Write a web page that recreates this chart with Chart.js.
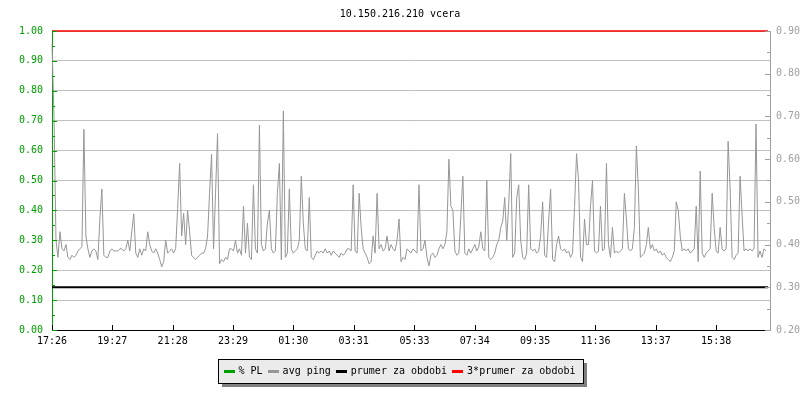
<!DOCTYPE html>
<html>
<head>
<meta charset="utf-8">
<title>10.150.216.210 vcera</title>
<script src="https://cdn.jsdelivr.net/npm/chart.js@4.4.1/dist/chart.umd.min.js"></script>
<style>
  html, body { margin: 0; padding: 0; background: #ffffff; }
  #wrap { width: 800px; height: 400px; }
</style>
</head>
<body>
<div id="wrap"><canvas id="chart" width="800" height="400"></canvas></div>
<script>
const chartTitle = "10.150.216.210 vcera";
const seriesNames = ["% PL", "avg ping", "prumer za obdobi", "3*prumer za obdobi"];
const seriesColors = ["#00a000", "#969696", "#000000", "#ff0000"];

// x axis in minutes since 17:26
const tickMinutes = [0, 121, 242, 363, 484, 605, 727, 848, 969, 1090, 1211, 1332];
const tickLabels = ["17:26", "19:27", "21:28", "23:29", "01:30", "03:31", "05:33", "07:34", "09:35", "11:36", "13:37", "15:38"];
const sampleMinutes = 4;

const plValues = [];
const pingValues = [
  0.87, 0.70, 0.41, 0.37, 0.43, 0.39, 0.385, 0.40, 0.37, 0.365,
  0.375, 0.37, 0.375, 0.385, 0.39, 0.395, 0.67, 0.42, 0.39, 0.37,
  0.385, 0.39, 0.385, 0.365, 0.46, 0.53, 0.375, 0.37, 0.37, 0.385,
  0.39, 0.385, 0.385, 0.385, 0.39, 0.39, 0.385, 0.39, 0.41, 0.385,
  0.43, 0.472, 0.38, 0.37, 0.39, 0.375, 0.39, 0.385, 0.43, 0.40,
  0.385, 0.38, 0.39, 0.38, 0.365, 0.348, 0.36, 0.41, 0.38, 0.385,
  0.39, 0.38, 0.39, 0.485, 0.59, 0.42, 0.473, 0.40, 0.48, 0.43,
  0.375, 0.37, 0.365, 0.37, 0.375, 0.38, 0.38, 0.39, 0.42, 0.52,
  0.612, 0.39, 0.52, 0.66, 0.355, 0.365, 0.36, 0.37, 0.365, 0.39,
  0.39, 0.385, 0.41, 0.38, 0.39, 0.375, 0.49, 0.38, 0.45, 0.37,
  0.365, 0.54, 0.39, 0.38, 0.68, 0.40, 0.385, 0.39, 0.45, 0.48,
  0.39, 0.38, 0.385, 0.52, 0.59, 0.364, 0.713, 0.37, 0.38, 0.53,
  0.39, 0.38, 0.385, 0.39, 0.41, 0.56, 0.45, 0.39, 0.385, 0.51,
  0.37, 0.365, 0.375, 0.385, 0.38, 0.385, 0.38, 0.39, 0.38, 0.385,
  0.375, 0.385, 0.38, 0.375, 0.37, 0.38, 0.375, 0.38, 0.39, 0.39,
  0.385, 0.54, 0.385, 0.38, 0.52, 0.44, 0.39, 0.38, 0.37, 0.355,
  0.36, 0.42, 0.38, 0.52, 0.39, 0.40, 0.385, 0.39, 0.42, 0.385,
  0.40, 0.39, 0.385, 0.41, 0.46, 0.36, 0.37, 0.365, 0.39, 0.385,
  0.38, 0.39, 0.385, 0.38, 0.54, 0.385, 0.39, 0.41, 0.37, 0.35,
  0.375, 0.38, 0.37, 0.375, 0.39, 0.40, 0.39, 0.40, 0.43, 0.60,
  0.49, 0.48, 0.385, 0.375, 0.38, 0.47, 0.56, 0.38, 0.375, 0.39,
  0.38, 0.39, 0.40, 0.385, 0.395, 0.43, 0.39, 0.385, 0.55, 0.37,
  0.365, 0.37, 0.38, 0.40, 0.41, 0.44, 0.455, 0.51, 0.41, 0.495,
  0.613, 0.37, 0.38, 0.51, 0.54, 0.41, 0.37, 0.365, 0.38, 0.54,
  0.39, 0.385, 0.39, 0.38, 0.385, 0.42, 0.50, 0.375, 0.37, 0.455,
  0.53, 0.365, 0.36, 0.40, 0.42, 0.39, 0.385, 0.39, 0.38, 0.385,
  0.37, 0.38, 0.487, 0.613, 0.55, 0.37, 0.36, 0.46, 0.40, 0.40,
  0.49, 0.55, 0.385, 0.38, 0.385, 0.49, 0.385, 0.39, 0.59, 0.40,
  0.37, 0.44, 0.38, 0.385, 0.38, 0.385, 0.39, 0.52, 0.46, 0.39,
  0.385, 0.39, 0.44, 0.631, 0.53, 0.37, 0.375, 0.38, 0.40, 0.44,
  0.39, 0.40, 0.385, 0.39, 0.38, 0.385, 0.375, 0.38, 0.37, 0.365,
  0.36, 0.37, 0.385, 0.50, 0.48, 0.42, 0.385, 0.39, 0.385, 0.39,
  0.38, 0.385, 0.39, 0.49, 0.36, 0.572, 0.38, 0.37, 0.38, 0.385,
  0.39, 0.52, 0.44, 0.385, 0.38, 0.44, 0.39, 0.385, 0.39, 0.642,
  0.53, 0.37, 0.365, 0.375, 0.38, 0.56, 0.47, 0.385, 0.39, 0.385,
  0.39, 0.385, 0.39, 0.682, 0.37, 0.385, 0.37, 0.39, 0.385
];
const lineMinutes = [0, 1436];
const averageValues = [0.30, 0.30];
const tripleAverageValues = [0.90, 0.90];

const monoFont = "'DejaVu Sans Mono', monospace";
Chart.defaults.font.family = monoFont;
Chart.defaults.font.size = 10;
Chart.defaults.color = "#000000";

// little line swatches for the legend
function swatch(color) {
  const c = document.createElement("canvas");
  c.width = 11;
  c.height = 3;
  const g = c.getContext("2d");
  g.fillStyle = color;
  g.fillRect(0, 0, 11, 3);
  return c;
}
const swatches = seriesColors.map(swatch);

const framePlugin = {
  id: "frame",
  beforeDraw(chart) {
    const lg = chart.legend;
    if (!lg || !lg.lineWidths) return;
    const pad = lg.options.labels.padding;
    const start = (lg.left + pad + lg.right - lg.lineWidths[0]) / 2;
    const end = start + lg.lineWidths[0] - pad;
    const x = Math.round(start) - 6.5;
    const w = Math.round(end - start) + 14;
    const y = Math.round(lg.top) - 0.5;
    const h = 24;
    const ctx = chart.ctx;
    ctx.save();
    ctx.fillStyle = "#808080";
    ctx.fillRect(x + 3.5, y + 3.5, w, h);
    ctx.fillStyle = "#ebebeb";
    ctx.fillRect(x, y, w, h);
    ctx.strokeStyle = "#000000";
    ctx.lineWidth = 1;
    ctx.strokeRect(x, y, w, h);
    ctx.restore();
  },
  afterDatasetsDraw(chart) {
    const { ctx, chartArea: area, scales } = chart;
    ctx.save();
    ctx.lineWidth = 1;
    const vertical = (scale, color, side) => {
      const t = scale.ticks;
      ctx.strokeStyle = color;
      const mark = (v, len) => {
        const py = Math.round(scale.getPixelForValue(v)) + 0.5;
        ctx.beginPath();
        if (side === "left") {
          ctx.moveTo(area.left, py);
          ctx.lineTo(area.left + len, py);
        } else {
          ctx.moveTo(area.right, py);
          ctx.lineTo(area.right - len, py);
        }
        ctx.stroke();
      };
      t.forEach((tick, i) => {
        mark(tick.value, 5);
        if (i < t.length - 1) mark((tick.value + t[i + 1].value) / 2, 3);
      });
    };
    vertical(scales.y, seriesColors[0], "left");
    vertical(scales.y2, "#a0a0a0", "right");
    ctx.strokeStyle = "#000000";
    scales.x.ticks.forEach(tick => {
      const px = Math.round(scales.x.getPixelForValue(tick.value)) + 0.5;
      ctx.beginPath();
      ctx.moveTo(px, area.bottom);
      ctx.lineTo(px, area.bottom - 5);
      ctx.stroke();
    });
    ctx.restore();
  }
};

const pingPoints = pingValues.map((v, i) => ({ x: i * sampleMinutes, y: v }));
const averagePoints = averageValues.map((v, i) => ({ x: lineMinutes[i], y: v }));
const triplePoints = tripleAverageValues.map((v, i) => ({ x: lineMinutes[i], y: v }));

new Chart(document.getElementById("chart"), {
  type: "line",
  data: {
    datasets: [
      { label: seriesNames[0], data: plValues, yAxisID: "y", borderColor: seriesColors[0], borderWidth: 1 },
      { label: seriesNames[1], data: pingPoints, yAxisID: "y2", borderColor: seriesColors[1], borderWidth: 1, clip: 2 },
      { label: seriesNames[2], data: averagePoints, yAxisID: "y2", borderColor: seriesColors[2], borderWidth: 2, clip: 2 },
      { label: seriesNames[3], data: triplePoints, yAxisID: "y2", borderColor: seriesColors[3], borderWidth: 1.5, clip: 3 }
    ]
  },
  options: {
    responsive: false,
    animation: false,
    elements: { point: { radius: 0 }, line: { tension: 0 } },
    layout: { padding: { top: 0, left: 0, right: 0, bottom: 14 } },
    plugins: {
      tooltip: { enabled: false },
      title: {
        display: true,
        text: chartTitle,
        color: "#000000",
        font: { family: monoFont, size: 10, weight: "normal" },
        padding: { top: 8, bottom: 11 }
      },
      legend: {
        position: "bottom",
        labels: {
          usePointStyle: true,
          boxWidth: 9,
          padding: 6,
          color: "#000000",
          font: { family: monoFont, size: 10 },
          generateLabels: chart => chart.data.datasets.map((ds, i) => ({
            text: ds.label,
            pointStyle: swatches[i],
            fillStyle: seriesColors[i],
            strokeStyle: seriesColors[i],
            lineWidth: 0,
            hidden: false,
            datasetIndex: i
          }))
        }
      }
    },
    scales: {
      x: {
        type: "linear",
        min: 0,
        max: 1440,
        afterBuildTicks: scale => { scale.ticks = tickMinutes.map(v => ({ value: v })); },
        afterFit: scale => { scale.height = 30; },
        grid: { display: false, drawTicks: false },
        border: { color: "#000000", width: 1 },
        ticks: {
          autoSkip: false,
          maxRotation: 0,
          padding: 5,
          color: "#000000",
          font: { family: monoFont, size: 10 },
          callback: (value, index) => tickLabels[index]
        }
      },
      y: {
        position: "left",
        min: 0,
        max: 1,
        afterFit: scale => { scale.width = 52; },
        grid: { color: "#c0c0c0", drawTicks: false, lineWidth: 1 },
        border: { color: seriesColors[0], width: 1 },
        ticks: {
          stepSize: 0.1,
          padding: 9,
          color: seriesColors[0],
          font: { family: monoFont, size: 10 },
          callback: v => v.toFixed(2)
        }
      },
      y2: {
        position: "right",
        min: 0.2,
        max: 0.9,
        afterFit: scale => { scale.width = 30; },
        grid: { display: false, drawTicks: false },
        border: { color: "#a0a0a0", width: 1 },
        ticks: {
          stepSize: 0.1,
          padding: 6,
          color: "#a0a0a0",
          font: { family: monoFont, size: 10 },
          callback: v => v.toFixed(2)
        }
      }
    }
  },
  plugins: [framePlugin]
});
</script>
</body>
</html>
